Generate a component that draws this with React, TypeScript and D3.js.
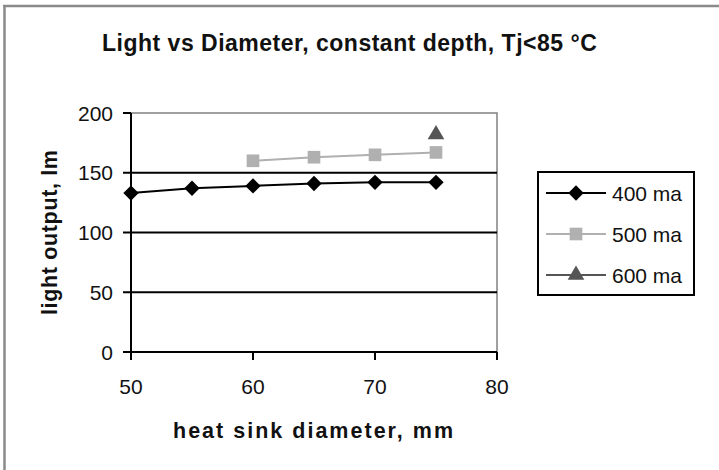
import React from "react";
import * as d3 from "d3";

const xValues400 = [50, 55, 60, 65, 70, 75];
const yValues400 = [133, 137, 139, 141, 142, 142];
const xValues500 = [60, 65, 70, 75];
const yValues500 = [160, 163, 165, 167];
const xValues600 = [75];
const yValues600 = [182];
const xTicks = [50, 60, 70, 80];
const yTicks = [0, 50, 100, 150, 200];
const seriesNames = ["400 ma", "500 ma", "600 ma"];
const titleText = "Light vs Diameter, constant depth, Tj<85 °C";
const xLabel = "heat sink diameter, mm";
const yLabel = "light output, lm";

const W = 719;
const H = 470;
const FONT = "'Liberation Sans', Arial, sans-serif";

export default function App() {
  const x = d3.scaleLinear().domain([50, 80]).range([131, 497]);
  const y = d3.scaleLinear().domain([0, 200]).range([352, 113]);

  const series = [
    { name: seriesNames[0], xs: xValues400, ys: yValues400, color: "#000000", marker: "diamond" },
    { name: seriesNames[1], xs: xValues500, ys: yValues500, color: "#b0b0b0", marker: "square" },
    { name: seriesNames[2], xs: xValues600, ys: yValues600, color: "#555555", marker: "triangle" },
  ];

  const line = d3
    .line<[number, number]>()
    .x((d) => x(d[0]))
    .y((d) => y(d[1]));

  const markerPath = (m: string) => {
    if (m === "diamond") return d3.symbol(d3.symbolDiamond2, 150)();
    if (m === "square") return d3.symbol(d3.symbolSquare, 160)();
    return d3.symbol(d3.symbolTriangle, 120)();
  };

  const [x0, x1] = x.range();
  const [y0, y1] = y.range();

  return (
    <svg
      width={W}
      height={H}
      style={{ position: "absolute", left: 0, top: 0, background: "#fff" }}
      fontFamily={FONT}
    >
      <rect x={0} y={0} width={W} height={H} fill="#fff" />
      {/* chart frame */}
      <line x1={4.5} x2={4.5} y1={5} y2={H} stroke="#8a8a8a" strokeWidth={2.5} />
      <line x1={3} x2={W} y1={6} y2={6} stroke="#8a8a8a" strokeWidth={2.5} />

      <text x={102} y={51} fontSize={23} fontWeight="bold" fill="#111" letterSpacing={0.5}>
        {titleText}
      </text>

      {/* plot area border */}
      <rect x={x0} y={y1} width={x1 - x0} height={y0 - y1} fill="none" stroke="#808080" strokeWidth={1.5} />

      {/* gridlines */}
      {yTicks.slice(1, -1).map((t) => (
        <line key={t} x1={x0} x2={x1} y1={y(t)} y2={y(t)} stroke="#000" strokeWidth={2} />
      ))}

      {/* axes */}
      <line x1={x0} x2={x0} y1={y1} y2={y0 + 1} stroke="#000" strokeWidth={2} />
      <line x1={x0} x2={x1} y1={y0} y2={y0} stroke="#000" strokeWidth={2} />
      {yTicks.map((t) => (
        <g key={t}>
          <line x1={x0 - 8} x2={x0} y1={y(t)} y2={y(t)} stroke="#000" strokeWidth={2} />
          <text x={113} y={y(t) + 7.5} textAnchor="end" fontSize={21} fill="#111">
            {t}
          </text>
        </g>
      ))}
      {xTicks.map((t) => (
        <g key={t}>
          <line x1={x(t)} x2={x(t)} y1={y0} y2={y0 + 8} stroke="#000" strokeWidth={2} />
          <text x={x(t)} y={394} textAnchor="middle" fontSize={21} fill="#111">
            {t}
          </text>
        </g>
      ))}

      <text
        x={173}
        y={438}
        fontSize={21.5}
        fontWeight="bold"
        fill="#111"
        textLength={280}
        lengthAdjust="spacing"
      >
        {xLabel}
      </text>
      <text
        transform={`translate(57,315) rotate(-90)`}
        fontSize={21.5}
        fontWeight="bold"
        fill="#111"
        textLength={165}
        lengthAdjust="spacing"
      >
        {yLabel}
      </text>

      {/* series */}
      {series.map((s) => {
        const pts: [number, number][] = s.xs.map((v, i) => [v, s.ys[i]]);
        return (
          <g key={s.name}>
            {pts.length > 1 && <path d={line(pts) || ""} fill="none" stroke={s.color} strokeWidth={2} />}
            {pts.map((p, i) => (
              <path key={i} d={markerPath(s.marker) || ""} transform={`translate(${x(p[0])},${y(p[1])})`} fill={s.color} />
            ))}
          </g>
        );
      })}

      {/* legend */}
      <rect x={538} y={172} width={156} height={123} fill="#fff" stroke="#000" strokeWidth={2} />
      {series.map((s, i) => {
        const ly = 193 + i * 41;
        return (
          <g key={s.name}>
            <line x1={546} x2={606} y1={ly} y2={ly} stroke={s.color} strokeWidth={2} />
            <path d={markerPath(s.marker) || ""} transform={`translate(576,${ly})`} fill={s.color} />
            <text x={612} y={ly + 7.5} fontSize={21} fill="#111">
              {s.name}
            </text>
          </g>
        );
      })}
    </svg>
  );
}
